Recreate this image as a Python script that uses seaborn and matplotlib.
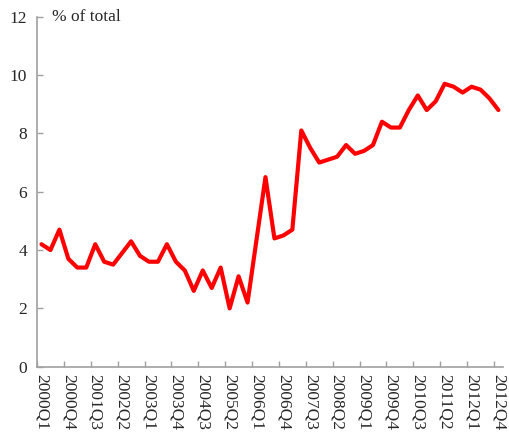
import matplotlib
matplotlib.use("Agg")
import matplotlib.pyplot as plt
import seaborn as sns
import pandas as pd
import numpy as np

years = list(range(2000, 2013))
quarters = [f"{y}Q{q}" for y in years for q in range(1, 5)]
values = [4.2, 4.0, 4.7, 3.7, 3.4, 3.4, 4.2, 3.6, 3.5, 3.9, 4.3, 3.8,
          3.6, 3.6, 4.2, 3.6, 3.3, 2.6, 3.3, 2.7, 3.4, 2.0, 3.1, 2.2,
          4.35, 6.5, 4.4, 4.5, 4.7, 8.1, 7.5, 7.0, 7.1, 7.2, 7.6, 7.3,
          7.4, 7.6, 8.4, 8.2, 8.2, 8.8, 9.3, 8.8, 9.1, 9.7, 9.6, 9.4,
          9.6, 9.5, 9.2, 8.8]
y_ticks = [0, 2, 4, 6, 8, 10, 12]
y_label = "% of total"

df = pd.DataFrame({"quarter": quarters, "value": values})
df["pos"] = range(len(df))

sns.set_style("white")
plt.rcParams["font.family"] = ["Liberation Serif", "DejaVu Serif"]

fig = plt.figure(figsize=(5.09, 4.34), dpi=100)
ax = fig.add_axes([0.0727, 0.155, 0.9153, 0.8065])

sns.lineplot(data=df, x="pos", y="value", ax=ax, color="#ff0000", linewidth=3.0)

ax.set_xlim(-0.5, len(df) - 0.5)
ax.set_ylim(0, 12)
ax.set_yticks(y_ticks)
ax.set_yticklabels([str(t) for t in y_ticks], fontsize=12.5)

label_pos = list(range(0, len(df), 3))
ax.set_xticks(label_pos)
ax.set_xticklabels([quarters[i] for i in label_pos], rotation=270, fontsize=12.5)
ax.tick_params(axis="x", which="major", length=0, pad=5)
ax.set_xticks([p - 0.5 for p in range(0, len(df), 3)], minor=True)
ax.tick_params(axis="x", which="minor", bottom=True, direction="in", length=4,
               color="#a0a0a0", width=1)
ax.tick_params(axis="y", left=True, direction="in", length=4, color="#a0a0a0",
               width=1, pad=7)

for s in ["top", "right"]:
    ax.spines[s].set_visible(False)
for s in ["left", "bottom"]:
    ax.spines[s].set_color("#a0a0a0")
    ax.spines[s].set_linewidth(1.2)

ax.set_xlabel("")
ax.set_ylabel("")
ax.text(1.2, 12, y_label, fontsize=12.5, va="center", ha="left")

fig.savefig("out.png", dpi=100)
